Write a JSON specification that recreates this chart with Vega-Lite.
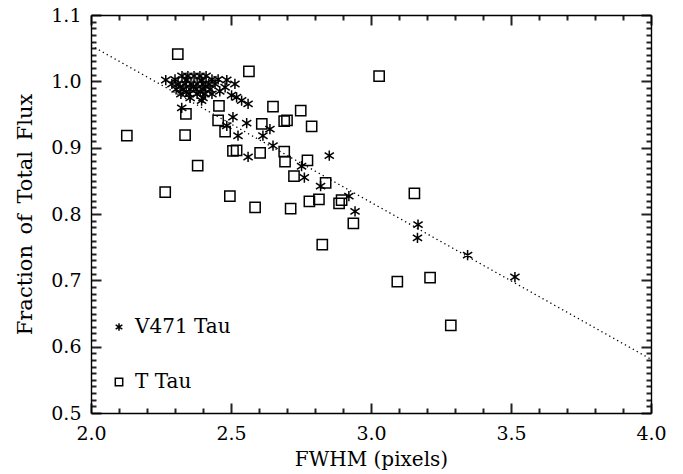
{
  "$schema": "https://vega.github.io/schema/vega-lite/v6.json",
  "autosize": {"type": "none"},
  "padding": {"left": 91, "top": 15, "right": 32, "bottom": 61},
  "width": 560,
  "height": 398,
  "background": "white",
  "config": {"view": {"stroke": null}, "font": "DejaVu Serif"},
  "resolve": {"axis": {"x": "independent", "y": "independent"}},
  "datasets": {
    "fit": [{"fwhm": 2.0, "frac": 1.054}, {"fwhm": 4.0, "frac": 0.581}],
    "pts": [
      {"star": "V471 Tau", "fwhm": 2.267, "frac": 1.002},
      {"star": "V471 Tau", "fwhm": 2.325, "frac": 1.008},
      {"star": "V471 Tau", "fwhm": 2.346, "frac": 1.008},
      {"star": "V471 Tau", "fwhm": 2.368, "frac": 1.008},
      {"star": "V471 Tau", "fwhm": 2.389, "frac": 1.008},
      {"star": "V471 Tau", "fwhm": 2.411, "frac": 1.008},
      {"star": "V471 Tau", "fwhm": 2.300, "frac": 1.003},
      {"star": "V471 Tau", "fwhm": 2.432, "frac": 1.003},
      {"star": "V471 Tau", "fwhm": 2.454, "frac": 1.003},
      {"star": "V471 Tau", "fwhm": 2.340, "frac": 1.002},
      {"star": "V471 Tau", "fwhm": 2.395, "frac": 1.001},
      {"star": "V471 Tau", "fwhm": 2.289, "frac": 0.996},
      {"star": "V471 Tau", "fwhm": 2.311, "frac": 0.996},
      {"star": "V471 Tau", "fwhm": 2.336, "frac": 0.996},
      {"star": "V471 Tau", "fwhm": 2.357, "frac": 0.996},
      {"star": "V471 Tau", "fwhm": 2.379, "frac": 0.996},
      {"star": "V471 Tau", "fwhm": 2.400, "frac": 0.996},
      {"star": "V471 Tau", "fwhm": 2.421, "frac": 0.996},
      {"star": "V471 Tau", "fwhm": 2.443, "frac": 0.996},
      {"star": "V471 Tau", "fwhm": 2.318, "frac": 0.992},
      {"star": "V471 Tau", "fwhm": 2.366, "frac": 0.992},
      {"star": "V471 Tau", "fwhm": 2.410, "frac": 0.992},
      {"star": "V471 Tau", "fwhm": 2.304, "frac": 0.988},
      {"star": "V471 Tau", "fwhm": 2.329, "frac": 0.988},
      {"star": "V471 Tau", "fwhm": 2.354, "frac": 0.988},
      {"star": "V471 Tau", "fwhm": 2.375, "frac": 0.988},
      {"star": "V471 Tau", "fwhm": 2.400, "frac": 0.988},
      {"star": "V471 Tau", "fwhm": 2.425, "frac": 0.988},
      {"star": "V471 Tau", "fwhm": 2.340, "frac": 0.984},
      {"star": "V471 Tau", "fwhm": 2.390, "frac": 0.984},
      {"star": "V471 Tau", "fwhm": 2.321, "frac": 0.981},
      {"star": "V471 Tau", "fwhm": 2.350, "frac": 0.981},
      {"star": "V471 Tau", "fwhm": 2.379, "frac": 0.981},
      {"star": "V471 Tau", "fwhm": 2.407, "frac": 0.981},
      {"star": "V471 Tau", "fwhm": 2.432, "frac": 0.981},
      {"star": "V471 Tau", "fwhm": 2.354, "frac": 0.975},
      {"star": "V471 Tau", "fwhm": 2.400, "frac": 0.975},
      {"star": "V471 Tau", "fwhm": 2.395, "frac": 0.971},
      {"star": "V471 Tau", "fwhm": 2.485, "frac": 1.002},
      {"star": "V471 Tau", "fwhm": 2.514, "frac": 0.996},
      {"star": "V471 Tau", "fwhm": 2.479, "frac": 0.991},
      {"star": "V471 Tau", "fwhm": 2.460, "frac": 0.985},
      {"star": "V471 Tau", "fwhm": 2.502, "frac": 0.979},
      {"star": "V471 Tau", "fwhm": 2.520, "frac": 0.976},
      {"star": "V471 Tau", "fwhm": 2.538, "frac": 0.971},
      {"star": "V471 Tau", "fwhm": 2.561, "frac": 0.966},
      {"star": "V471 Tau", "fwhm": 2.324, "frac": 0.960},
      {"star": "V471 Tau", "fwhm": 2.507, "frac": 0.946},
      {"star": "V471 Tau", "fwhm": 2.485, "frac": 0.933},
      {"star": "V471 Tau", "fwhm": 2.556, "frac": 0.937},
      {"star": "V471 Tau", "fwhm": 2.525, "frac": 0.918},
      {"star": "V471 Tau", "fwhm": 2.614, "frac": 0.918},
      {"star": "V471 Tau", "fwhm": 2.639, "frac": 0.928},
      {"star": "V471 Tau", "fwhm": 2.650, "frac": 0.903},
      {"star": "V471 Tau", "fwhm": 2.561, "frac": 0.886},
      {"star": "V471 Tau", "fwhm": 2.851, "frac": 0.888},
      {"star": "V471 Tau", "fwhm": 2.752, "frac": 0.872},
      {"star": "V471 Tau", "fwhm": 2.762, "frac": 0.855},
      {"star": "V471 Tau", "fwhm": 2.820, "frac": 0.842},
      {"star": "V471 Tau", "fwhm": 2.921, "frac": 0.827},
      {"star": "V471 Tau", "fwhm": 2.943, "frac": 0.804},
      {"star": "V471 Tau", "fwhm": 3.168, "frac": 0.784},
      {"star": "V471 Tau", "fwhm": 3.166, "frac": 0.764},
      {"star": "V471 Tau", "fwhm": 3.345, "frac": 0.738},
      {"star": "V471 Tau", "fwhm": 3.514, "frac": 0.705},
      {"star": "T Tau", "fwhm": 2.310, "frac": 1.041},
      {"star": "T Tau", "fwhm": 2.564, "frac": 1.015},
      {"star": "T Tau", "fwhm": 3.029, "frac": 1.008},
      {"star": "T Tau", "fwhm": 2.128, "frac": 0.918},
      {"star": "T Tau", "fwhm": 2.336, "frac": 0.919},
      {"star": "T Tau", "fwhm": 2.650, "frac": 0.962},
      {"star": "T Tau", "fwhm": 2.457, "frac": 0.963},
      {"star": "T Tau", "fwhm": 2.339, "frac": 0.951},
      {"star": "T Tau", "fwhm": 2.454, "frac": 0.941},
      {"star": "T Tau", "fwhm": 2.479, "frac": 0.924},
      {"star": "T Tau", "fwhm": 2.610, "frac": 0.936},
      {"star": "T Tau", "fwhm": 2.507, "frac": 0.895},
      {"star": "T Tau", "fwhm": 2.520, "frac": 0.896},
      {"star": "T Tau", "fwhm": 2.604, "frac": 0.892},
      {"star": "T Tau", "fwhm": 2.381, "frac": 0.873},
      {"star": "T Tau", "fwhm": 2.749, "frac": 0.956},
      {"star": "T Tau", "fwhm": 2.690, "frac": 0.940},
      {"star": "T Tau", "fwhm": 2.700, "frac": 0.941},
      {"star": "T Tau", "fwhm": 2.788, "frac": 0.932},
      {"star": "T Tau", "fwhm": 2.690, "frac": 0.894},
      {"star": "T Tau", "fwhm": 2.693, "frac": 0.879},
      {"star": "T Tau", "fwhm": 2.773, "frac": 0.881},
      {"star": "T Tau", "fwhm": 2.725, "frac": 0.857},
      {"star": "T Tau", "fwhm": 2.838, "frac": 0.847},
      {"star": "T Tau", "fwhm": 2.265, "frac": 0.833},
      {"star": "T Tau", "fwhm": 2.496, "frac": 0.827},
      {"star": "T Tau", "fwhm": 2.586, "frac": 0.810},
      {"star": "T Tau", "fwhm": 2.713, "frac": 0.808},
      {"star": "T Tau", "fwhm": 2.780, "frac": 0.819},
      {"star": "T Tau", "fwhm": 2.814, "frac": 0.822},
      {"star": "T Tau", "fwhm": 2.886, "frac": 0.816},
      {"star": "T Tau", "fwhm": 2.895, "frac": 0.821},
      {"star": "T Tau", "fwhm": 2.937, "frac": 0.786},
      {"star": "T Tau", "fwhm": 2.826, "frac": 0.754},
      {"star": "T Tau", "fwhm": 3.155, "frac": 0.831},
      {"star": "T Tau", "fwhm": 3.094, "frac": 0.698},
      {"star": "T Tau", "fwhm": 3.211, "frac": 0.704},
      {"star": "T Tau", "fwhm": 3.285, "frac": 0.632}
    ]
  },
  "layer": [
    {
      "data": {"name": "fit"},
      "mark": {"type": "line", "color": "black", "strokeWidth": 1.3, "strokeDash": [1.3, 3.2]},
      "encoding": {
        "x": {
          "field": "fwhm", "type": "quantitative",
          "scale": {"domain": [2, 4], "nice": false, "zero": false},
          "axis": {
            "orient": "bottom", "values": [2, 2.5, 3, 3.5, 4], "format": ".1f",
            "ticks": false, "domainColor": "black", "domainWidth": 1.4,
            "grid": true, "gridColor": "#222222", "gridWidth": 2, "gridOpacity": 1, "gridDash": [10, 378],
            "labelOverlap": false, "labelFlush": false,
            "labelFont": "DejaVu Serif", "labelFontSize": 19, "labelColor": "black", "labelPadding": 11,
            "title": "FWHM (pixels)", "titleFont": "DejaVu Serif", "titleFontSize": 20, "titleFontWeight": "normal", "titleColor": "black", "titlePadding": 6
          }
        },
        "y": {
          "field": "frac", "type": "quantitative",
          "scale": {"domain": [0.5, 1.1], "nice": false, "zero": false},
          "axis": {
            "orient": "left", "values": [0.5, 0.6, 0.7, 0.8, 0.9, 1.0, 1.1], "format": ".1f",
            "ticks": false, "domainColor": "black", "domainWidth": 1.4,
            "grid": true, "gridColor": "#222222", "gridWidth": 2, "gridOpacity": 1, "gridDash": [10, 540],
            "labelOverlap": false, "labelFlush": false,
            "labelFont": "DejaVu Serif", "labelFontSize": 19, "labelColor": "black", "labelPadding": 10,
            "title": "Fraction\u2002of\u2002Total\u2002Flux", "titleFont": "DejaVu Serif", "titleFontSize": 21, "titleFontWeight": "normal", "titleColor": "black", "titlePadding": 15
          }
        }
      }
    },
    {
      "data": {"name": "pts"},
      "mark": {"type": "point", "filled": false, "strokeWidth": 1.5, "color": "black", "opacity": 1, "size": 105},
      "encoding": {
        "x": {
          "field": "fwhm", "type": "quantitative",
          "axis": {
            "orient": "top",
            "values": [2.1, 2.2, 2.3, 2.4, 2.6, 2.7, 2.8, 2.9, 3.1, 3.2, 3.3, 3.4, 3.6, 3.7, 3.8, 3.9],
            "labels": false, "ticks": false, "domain": true, "domainColor": "black", "domainWidth": 1.4,
            "grid": true, "gridColor": "#222222", "gridWidth": 2, "gridOpacity": 1, "gridDash": [5, 388],
            "title": null
          }
        },
        "y": {
          "field": "frac", "type": "quantitative",
          "axis": {
            "orient": "right",
            "values": [0.51, 0.52, 0.53, 0.54, 0.55, 0.56, 0.57, 0.58, 0.59, 0.61, 0.62, 0.63, 0.64, 0.65, 0.66, 0.67, 0.68, 0.69, 0.71, 0.72, 0.73, 0.74, 0.75, 0.76, 0.77, 0.78, 0.79, 0.81, 0.82, 0.83, 0.84, 0.85, 0.86, 0.87, 0.88, 0.89, 0.91, 0.92, 0.93, 0.94, 0.95, 0.96, 0.97, 0.98, 0.99, 1.01, 1.02, 1.03, 1.04, 1.05, 1.06, 1.07, 1.08, 1.09],
            "labels": false, "ticks": false, "domain": true, "domainColor": "black", "domainWidth": 1.4,
            "grid": true, "gridColor": "#222222", "gridWidth": 2, "gridOpacity": 1, "gridDash": [5, 550],
            "title": null
          }
        },
        "shape": {
          "field": "star", "type": "nominal",
          "scale": {"domain": ["V471 Tau", "T Tau"], "range": ["M0,-1L0,1M-0.9,-0.6L0.9,0.6M-0.9,0.6L0.9,-0.6", "square"]},
          "legend": {
            "orient": "none", "legendX": 18, "legendY": 302, "direction": "vertical", "title": null,
            "labelFont": "DejaVu Serif", "labelFontSize": 20, "labelColor": "black",
            "symbolSize": 55, "symbolStrokeWidth": 1.5, "symbolStrokeColor": "black", "symbolFillColor": "transparent",
            "rowPadding": 35, "labelOffset": 6
          }
        }
      }
    }
  ]
}
